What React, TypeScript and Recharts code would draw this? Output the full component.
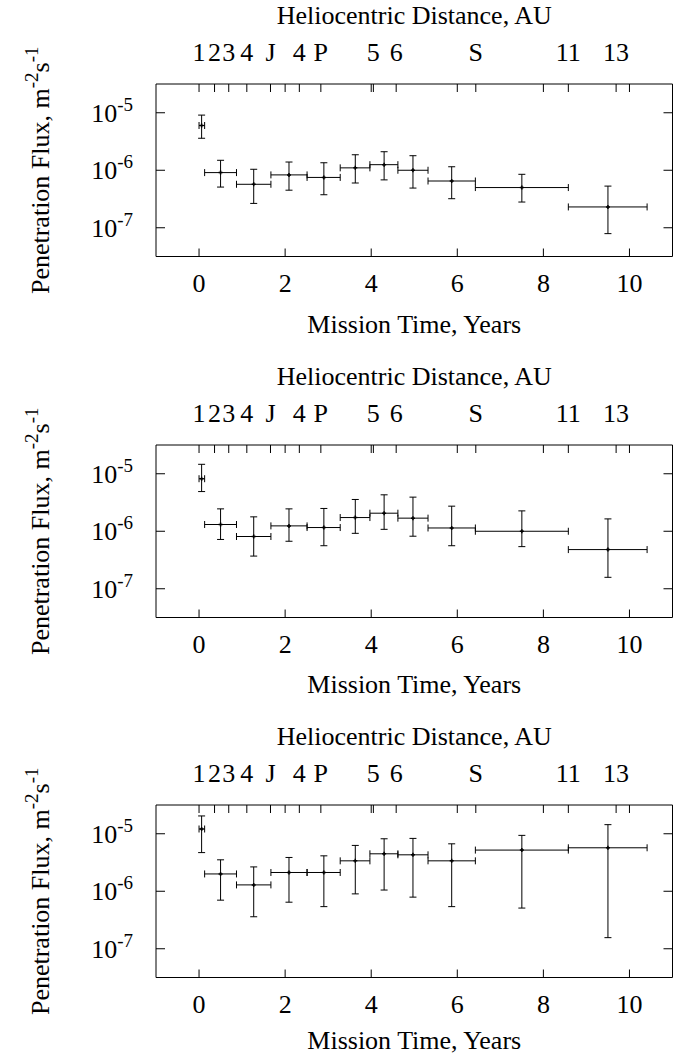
import React from 'react';
import { ScatterChart, Scatter, XAxis, YAxis, ErrorBar, Label } from 'recharts';

const FONT = '"Liberation Serif", "Times New Roman", serif';
const FS = 26;
const SUP = 19;

// time bins (years), shared by the three panels
const binCenter = [0.06, 0.5, 1.27, 2.09, 2.9, 3.63, 4.3, 4.97, 5.87, 7.5, 9.5];
const binStart = [0, 0.13, 0.87, 1.67, 2.51, 3.28, 3.97, 4.62, 5.32, 6.42, 8.58];
const binEnd = [0.13, 0.87, 1.67, 2.51, 3.28, 3.97, 4.62, 5.32, 6.42, 8.58, 10.41];

// panel 1
const fluxA = [6.0e-6, 9.1e-7, 5.7e-7, 8.3e-7, 7.5e-7, 1.1e-6, 1.25e-6, 1.0e-6, 6.5e-7, 5.0e-7, 2.3e-7];
const fluxALow = [3.6e-6, 5.1e-7, 2.65e-7, 4.5e-7, 3.75e-7, 6.0e-7, 6.8e-7, 4.9e-7, 3.2e-7, 2.8e-7, 7.9e-8];
const fluxAHigh = [9.1e-6, 1.49e-6, 1.04e-6, 1.39e-6, 1.35e-6, 1.86e-6, 2.1e-6, 1.79e-6, 1.15e-6, 8.5e-7, 5.3e-7];

// panel 2
const fluxB = [8.2e-6, 1.31e-6, 8.1e-7, 1.24e-6, 1.16e-6, 1.73e-6, 2.06e-6, 1.69e-6, 1.14e-6, 1.0e-6, 4.8e-7];
const fluxBLow = [4.9e-6, 7.2e-7, 3.7e-7, 6.7e-7, 5.6e-7, 9.2e-7, 1.08e-6, 8.2e-7, 5.6e-7, 5.4e-7, 1.58e-7];
const fluxBHigh = [1.46e-5, 2.45e-6, 1.78e-6, 2.45e-6, 2.49e-6, 3.57e-6, 4.3e-6, 3.92e-6, 2.73e-6, 2.26e-6, 1.64e-6];

// panel 3
const fluxC = [1.21e-5, 2.0e-6, 1.29e-6, 2.12e-6, 2.12e-6, 3.38e-6, 4.48e-6, 4.3e-6, 3.38e-6, 5.2e-6, 5.7e-6];
const fluxCLow = [4.7e-6, 7.0e-7, 3.6e-7, 6.45e-7, 5.4e-7, 9.0e-7, 1.05e-6, 7.9e-7, 5.4e-7, 5.1e-7, 1.56e-7];
const fluxCHigh = [2.04e-5, 3.52e-6, 2.65e-6, 3.87e-6, 4.13e-6, 6.27e-6, 8.18e-6, 8.3e-6, 6.68e-6, 9.37e-6, 1.44e-5];

// axes
const timeTicks = [0, 2, 4, 6, 8, 10];
const fluxTicks = [1e-7, 1e-6, 1e-5];
const fluxTickExp = ['-7', '-6', '-5'];
const helioPos = [0, 0.36, 0.69, 1.11, 1.66, 2.33, 2.83, 4.05, 4.58, 6.43, 8.58, 9.69];
const helioLabels = ['1', '2', '3', '4', 'J', '4', 'P', '5', '6', 'S', '11', '13'];

const topTicks = [...timeTicks, ...helioPos.filter((p) => !timeTicks.includes(p))].sort((a, b) => a - b);

const BottomTick = ({ x, y, payload }: any) => (
  <g>
    <line x1={x} y1={y} x2={x} y2={y - 8} stroke="#000" />
    <text x={x} y={y + 35} textAnchor="middle" fontSize={FS} fontFamily={FONT} fill="#000">
      {payload.value}
    </text>
  </g>
);

const TopTick = ({ x, y, payload }: any) => {
  const i = helioPos.findIndex((p) => Math.abs(p - payload.value) < 1e-6);
  return (
    <g>
      <line x1={x} y1={y} x2={x} y2={y + 8} stroke="#000" />
      {i >= 0 && (
        <text x={x} y={y - 23} textAnchor="middle" fontSize={FS} fontFamily={FONT} fill="#000">
          {helioLabels[i]}
        </text>
      )}
    </g>
  );
};

const LeftTick = ({ x, y, payload }: any) => {
  const i = fluxTicks.findIndex((t) => Math.abs(t - payload.value) / t < 1e-6);
  return (
    <g>
      <line x1={x} y1={y} x2={x + 9} y2={y} stroke="#000" />
      <text x={x - 23} y={y + 9} textAnchor="end" fontSize={FS} fontFamily={FONT} fill="#000">
        10
        <tspan dy={-11} fontSize={SUP}>{fluxTickExp[i]}</tspan>
      </text>
    </g>
  );
};

const RightTick = ({ x, y }: any) => (
  <line x1={x} y1={y} x2={x - 9} y2={y} stroke="#000" />
);

const Cross = ({ cx, cy }: any) => (
  <path d={`M${cx - 2},${cy}H${cx + 2}M${cx},${cy - 2}V${cy + 2}`} stroke="#000" strokeWidth={1.5} />
);

const Nothing = () => <g />;

const makeBottomTitle = (gap: number) => ({ viewBox }: any) => (
  <text x={viewBox.x + viewBox.width / 2} y={viewBox.y + gap} textAnchor="middle" fontSize={FS} fontFamily={FONT} fill="#000">
    Mission Time, Years
  </text>
);

const topTitle = ({ viewBox }: any) => (
  <text x={viewBox.x + viewBox.width / 2} y={viewBox.y + viewBox.height - 60.5} textAnchor="middle" fontSize={FS} fontFamily={FONT} fill="#000">
    Heliocentric Distance, AU
  </text>
);

const yTitle = ({ viewBox }: any) => {
  const cx = 49;
  const cy = viewBox.y + viewBox.height / 2;
  return (
    <text x={cx} y={cy} transform={`rotate(-90 ${cx} ${cy})`} textAnchor="middle" fontSize={FS} fontFamily={FONT} fill="#000">
      Penetration Flux, m<tspan dy={-11} fontSize={SUP}>-2</tspan>
      <tspan dy={11}>s</tspan>
      <tspan dy={-11} fontSize={SUP}>-1</tspan>
    </text>
  );
};

interface PanelProps {
  flux: number[];
  low: number[];
  high: number[];
  height: number;
  titleGap: number;
}

function FluxPanel({ flux, low, high, height, titleGap }: PanelProps) {
  const data = binCenter.map((x, i) => ({
    x,
    y: flux[i],
    ex: [x - binStart[i], binEnd[i] - x],
    ey: [flux[i] - low[i], high[i] - flux[i]],
  }));
  const logDomain = [Math.pow(10, -7.5), Math.pow(10, -4.5)];

  return (
    <ScatterChart
      width={685}
      height={height}
      margin={{ top: 83, right: 11.5, bottom: height - 257.5, left: 155 }}
    >
      <XAxis
        xAxisId="b"
        dataKey="x"
        type="number"
        domain={[-1, 11]}
        allowDataOverflow
        ticks={timeTicks}
        interval={0}
        height={1}
        tickSize={0}
        tickMargin={0}
        tickLine={false}
        axisLine={{ stroke: '#000' }}
        tick={BottomTick}
      >
        <Label content={makeBottomTitle(titleGap)} />
      </XAxis>
      <XAxis
        xAxisId="t"
        dataKey="x"
        orientation="top"
        type="number"
        domain={[-1, 11]}
        allowDataOverflow
        ticks={topTicks}
        interval={0}
        height={1}
        tickSize={0}
        tickMargin={0}
        tickLine={false}
        axisLine={{ stroke: '#000' }}
        tick={TopTick}
      >
        <Label content={topTitle} />
      </XAxis>
      <YAxis
        yAxisId="l"
        dataKey="y"
        type="number"
        scale="log"
        domain={logDomain}
        allowDataOverflow
        ticks={fluxTicks}
        interval={0}
        width={1}
        tickSize={0}
        tickMargin={0}
        tickLine={false}
        axisLine={{ stroke: '#000' }}
        tick={LeftTick}
      >
        <Label content={yTitle} />
      </YAxis>
      <YAxis
        yAxisId="r"
        dataKey="y"
        orientation="right"
        type="number"
        scale="log"
        domain={logDomain}
        allowDataOverflow
        ticks={fluxTicks}
        interval={0}
        width={1}
        tickSize={0}
        tickMargin={0}
        tickLine={false}
        axisLine={{ stroke: '#000' }}
        tick={RightTick}
      />
      {/* carries the mirrored top/right axes */}
      <Scatter
        data={data}
        xAxisId="t"
        yAxisId="r"
        dataKey="y"
        shape={Nothing}
        legendType="none"
        isAnimationActive={false}
      />
      <Scatter
        data={data}
        xAxisId="b"
        yAxisId="l"
        dataKey="y"
        shape={Cross}
        isAnimationActive={false}
      >
        <ErrorBar dataKey="ex" direction="x" width={3.5} stroke="#000" strokeWidth={1} isAnimationActive={false} />
        <ErrorBar dataKey="ey" direction="y" width={3.5} stroke="#000" strokeWidth={1} isAnimationActive={false} />
      </Scatter>
    </ScatterChart>
  );
}

export default function App() {
  return (
    <div style={{ position: 'absolute', left: 0, top: 0, width: 685, height: 1054, background: '#fff' }}>
      <FluxPanel flux={fluxA} low={fluxALow} high={fluxAHigh} height={361} titleGap={76} />
      <FluxPanel flux={fluxB} low={fluxBLow} high={fluxBHigh} height={360} titleGap={75} />
      <FluxPanel flux={fluxC} low={fluxCLow} high={fluxCHigh} height={333} titleGap={71} />
    </div>
  );
}
